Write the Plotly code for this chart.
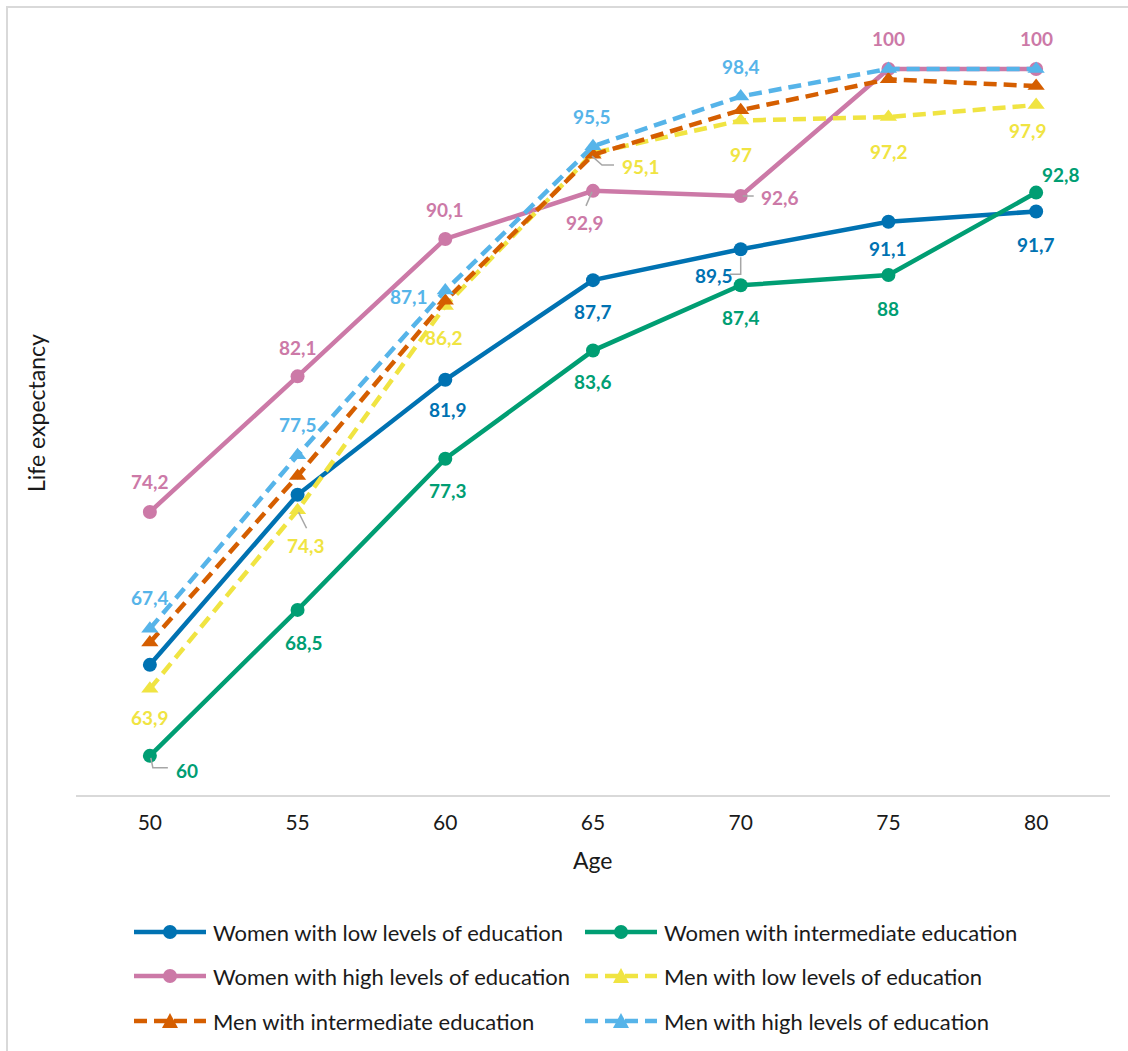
import plotly.graph_objects as go

# ---- data -------------------------------------------------------------
ages = [50, 55, 60, 65, 70, 75, 80]

series_names = [
    "Women with low levels of education",
    "Women with intermediate education",
    "Women with high levels of education",
    "Men with low levels of education",
    "Men with intermediate education",
    "Men with high levels of education",
]

women_low = [65.3, 75.2, 81.9, 87.7, 89.5, 91.1, 91.7]
women_mid = [60, 68.5, 77.3, 83.6, 87.4, 88, 92.8]
women_high = [74.2, 82.1, 90.1, 92.9, 92.6, 100, 100]
men_low = [63.9, 74.3, 86.2, 95.1, 97, 97.2, 97.9]
men_mid = [66.6, 76.3, 86.5, 95.0, 97.6, 99.4, 99.0]
men_high = [67.4, 77.5, 87.1, 95.5, 98.4, 100, 100]

series_values = [women_low, women_mid, women_high, men_low, men_mid, men_high]

# ---- styling ----------------------------------------------------------
colors = ["#0072B2", "#009E73", "#CC79A7", "#F0E442", "#D55E00", "#56B4E9"]
symbols = ["circle", "circle", "circle", "triangle-up", "triangle-up", "triangle-up"]
dashes = ["solid", "solid", "solid", "13px,7px", "13px,7px", "13px,7px"]
FONT = "Lato"
TEXT_COLOR = "#1a1a1a"
W, H = 1128, 1051
ML, MR, MT, MB = 76, 18, 26, 256
PW, PH = W - ML - MR, H - MT - MB

# data-label placement per point: (dx right, dy down) in pixels, None = hidden
label_offsets = [
    [None, None, (3, 30), (0, 31), (-27, 26), (0, 27), (0, 33)],
    [(37, 15), (6, 33), (3, 32), (0, 31), (0, 32), (0, 33), (25, -18)],
    [(0, -30), (0, -29), (0, -29), (-8, 32), (39, 1), (0, -30), (0, -30)],
    [(0, 29), (8, 35), (-1, 32), (48, 13), (0, 34), (1, 34), (-8, 25)],
    [None] * 7,
    [(0, -31), (0, -31), (-36, 6), (-1, -30), (0, -30), None, None],
]

# leader lines from a point to its displaced label (pixel offsets, y down)
leaders = {
    (1, 0): [(1, 2), (3, 12), (18, 12)],
    (3, 1): [(1, 2), (9, 18)],
    (3, 3): [(-1, 3), (9, 12), (21, 12)],
    (2, 3): [(-1, 1), (-7, 15)],
    (2, 4): [(2, 0), (13, 0)],
    (0, 4): [(0, 8), (0, 25), (-11, 25)],
}


def fmt(v):
    return str(int(v)) if float(v).is_integer() else str(v).replace(".", ",")


def px(x):
    return (x - ML) / PW


def py(y):
    return (H - MB - y) / PH


fig = go.Figure()

for name, vals, col, sym, dash in zip(series_names, series_values, colors, symbols, dashes):
    fig.add_trace(go.Scatter(
        x=ages, y=vals, name=name, mode="lines+markers",
        line=dict(color=col, width=4.5, dash=dash),
        marker=dict(symbol=sym, size=14 if sym == "circle" else 15, color=col),
        showlegend=False,
    ))

annotations = []
shapes = []

# value labels
for s, (vals, col) in enumerate(zip(series_values, colors)):
    for i, (a, v) in enumerate(zip(ages, vals)):
        off = label_offsets[s][i]
        if off is None:
            continue
        annotations.append(dict(
            x=a, y=v, xref="x", yref="y", text=fmt(v), showarrow=False,
            xanchor="center", yanchor="middle",
            xshift=off[0], yshift=-off[1],
            font=dict(family=FONT, size=19, color=col, weight="bold"),
        ))

# leader lines
for (s, i), pts in leaders.items():
    path = "M " + " L ".join(f"{dx},{-dy}" for dx, dy in pts)
    shapes.append(dict(
        type="path", xref="x", yref="y", xsizemode="pixel", ysizemode="pixel",
        xanchor=ages[i], yanchor=series_values[s][i], path=path,
        line=dict(color="#A6A6A6", width=1.5), layer="above",
    ))

# legend built from the series names, colours and marker styles
leg_cols = [134, 585]
leg_rows = [932, 976, 1021]
for k, (name, col, sym, dash) in enumerate(zip(series_names, colors, symbols, dashes)):
    x0 = leg_cols[k % 2]
    yc = leg_rows[k // 2]
    shapes.append(dict(
        type="line", xref="paper", yref="paper",
        x0=px(x0), x1=px(x0 + 72), y0=py(yc), y1=py(yc),
        line=dict(color=col, width=4.5, dash=dash),
    ))
    if sym == "circle":
        shapes.append(dict(
            type="circle", xref="paper", yref="paper", xsizemode="pixel", ysizemode="pixel",
            xanchor=px(x0 + 36), yanchor=py(yc), x0=-7, x1=7, y0=-7, y1=7,
            fillcolor=col, line=dict(color=col, width=0),
        ))
    else:
        shapes.append(dict(
            type="path", xref="paper", yref="paper", xsizemode="pixel", ysizemode="pixel",
            xanchor=px(x0 + 36), yanchor=py(yc), path="M -8,-7 L 8,-7 L 0,8 Z",
            fillcolor=col, line=dict(color=col, width=0),
        ))
    annotations.append(dict(
        x=px(x0 + 77), y=py(yc), xref="paper", yref="paper", text=name,
        showarrow=False, xanchor="left", yanchor="middle",
        font=dict(family=FONT, size=22, color=TEXT_COLOR),
    ))

# axis titles
annotations.append(dict(
    x=px(593), y=py(860), xref="paper", yref="paper", text="Age", showarrow=False,
    xanchor="center", yanchor="middle",
    font=dict(family=FONT, size=23, color=TEXT_COLOR),
))
annotations.append(dict(
    x=px(36), y=py(413), xref="paper", yref="paper", text="Life expectancy",
    showarrow=False, textangle=-90, xanchor="center", yanchor="middle",
    font=dict(family=FONT, size=23, color=TEXT_COLOR),
))

# chart-area border
shapes.append(dict(
    type="rect", xref="paper", yref="paper",
    x0=px(7), x1=px(1140), y0=py(1060), y1=py(7),
    line=dict(color="#D9D9D9", width=2), fillcolor="rgba(0,0,0,0)", layer="below",
))

fig.update_layout(
    width=W, height=H,
    margin=dict(l=ML, r=MR, t=MT, b=MB),
    paper_bgcolor="white", plot_bgcolor="white",
    font=dict(family=FONT, size=20, color=TEXT_COLOR),
    xaxis=dict(
        range=[47.5, 82.5], tickvals=ages, ticktext=[str(a) for a in ages],
        showline=True, linecolor="#D9D9D9", linewidth=2, showgrid=False,
        zeroline=False, ticks="", ticklabelstandoff=8,
        tickfont=dict(family=FONT, size=21, color=TEXT_COLOR),
    ),
    yaxis=dict(
        range=[57.72, 102.5], showticklabels=False, showgrid=False,
        zeroline=False, showline=False, ticks="",
    ),
    annotations=annotations,
    shapes=shapes,
    showlegend=False,
)

fig.write_html("out.html")
